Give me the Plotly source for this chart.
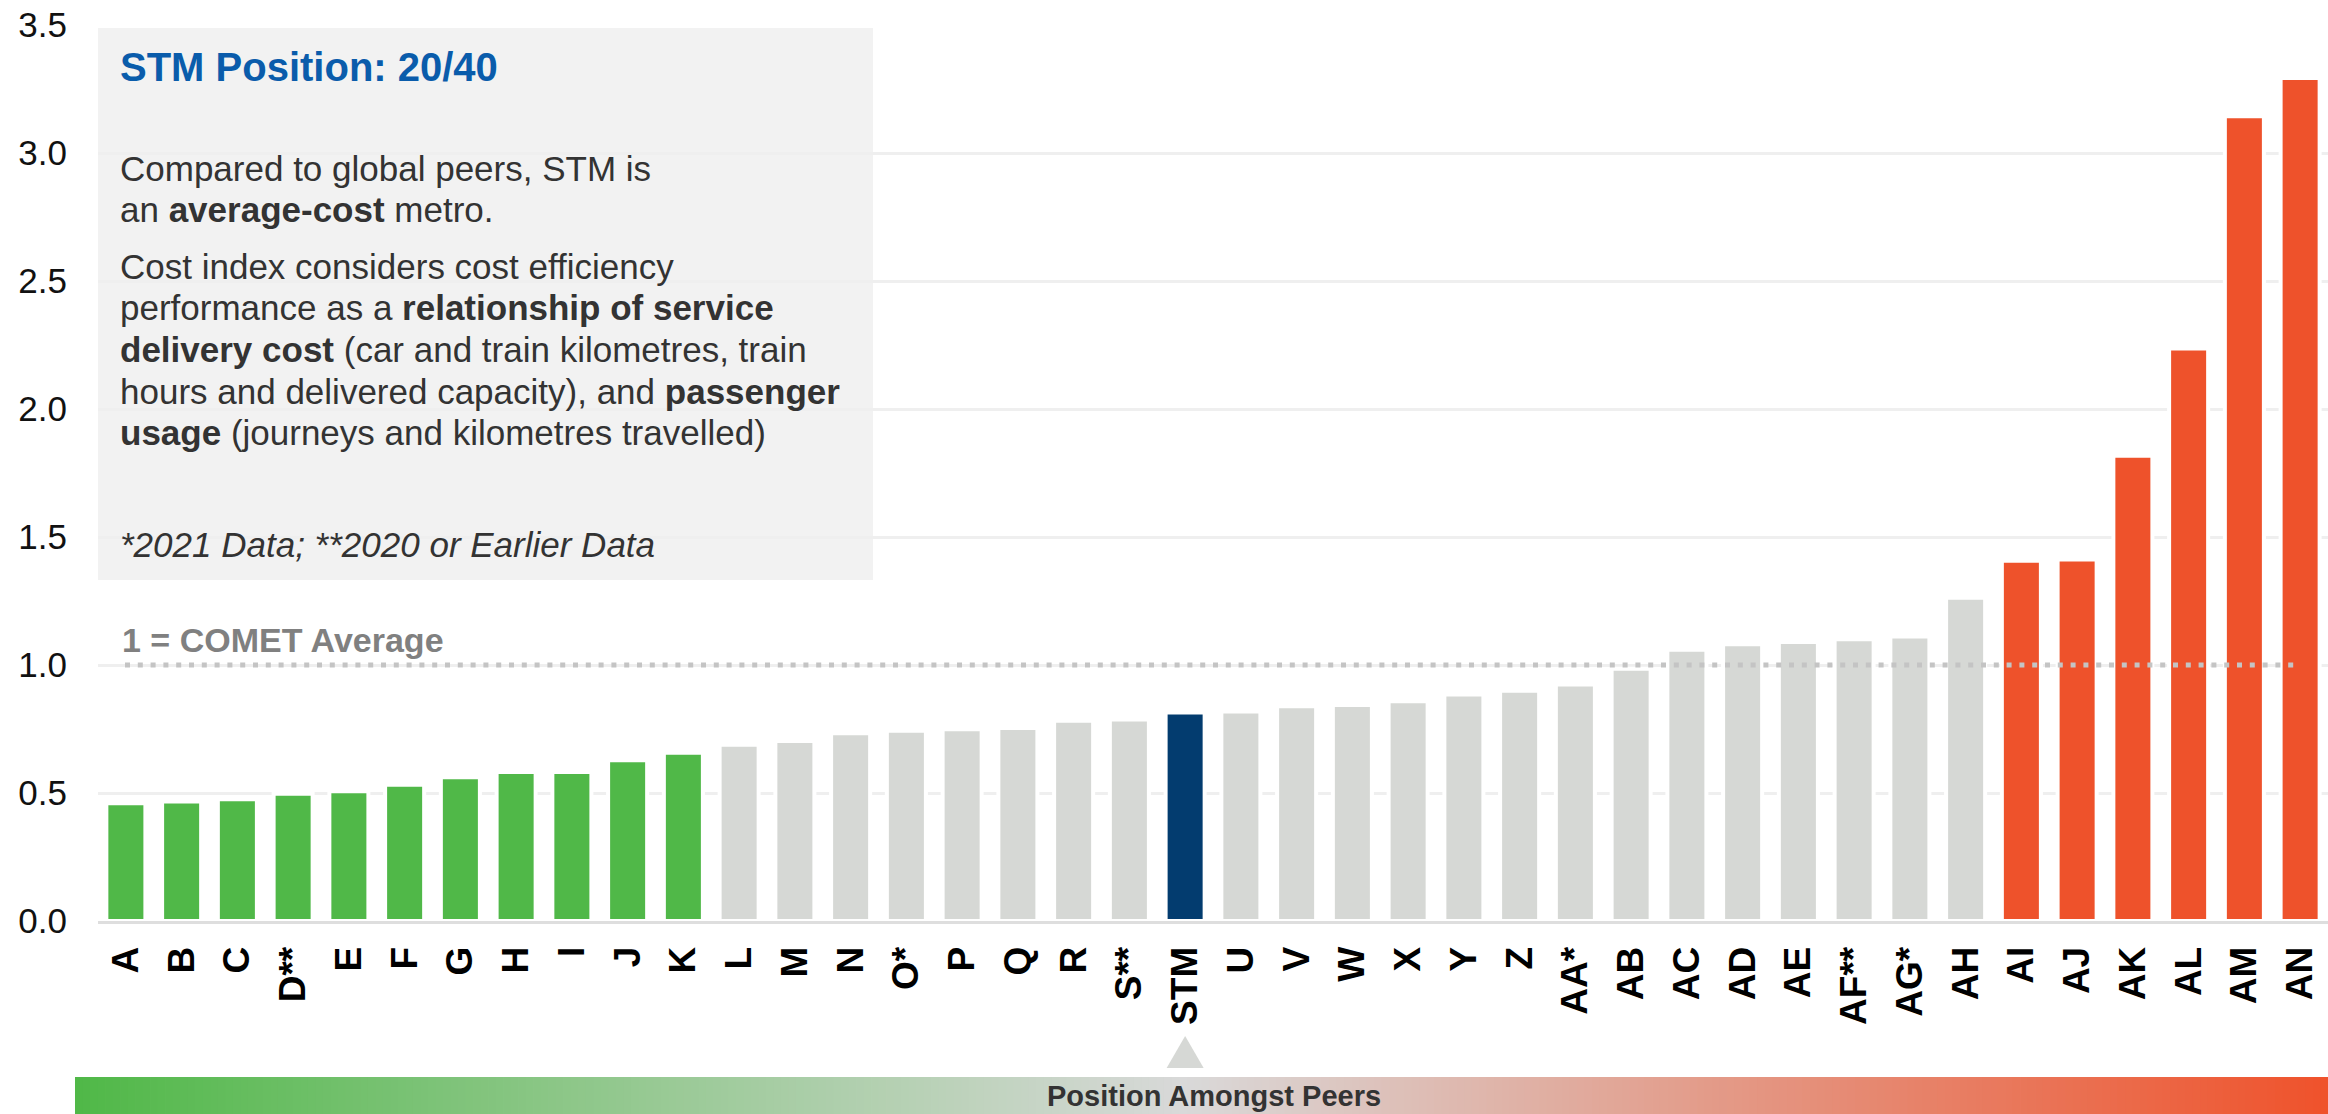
import plotly.graph_objects as go

# ---------------- data ----------------
categories = ["A", "B", "C", "D**", "E", "F", "G", "H", "I", "J", "K", "L", "M", "N", "O*",
              "P", "Q", "R", "S**", "STM", "U", "V", "W", "X", "Y", "Z", "AA*", "AB", "AC",
              "AD", "AE", "AF**", "AG*", "AH", "AI", "AJ", "AK", "AL", "AM", "AN"]
cost_index = [0.460, 0.467, 0.476, 0.497, 0.507, 0.532, 0.562, 0.582, 0.582, 0.628, 0.657,
              0.688, 0.703, 0.733, 0.743, 0.749, 0.754, 0.782, 0.787, 0.814, 0.818, 0.839,
              0.844, 0.858, 0.885, 0.899, 0.924, 0.985, 1.060, 1.081, 1.090, 1.101, 1.111,
              1.263, 1.407, 1.412, 1.817, 2.236, 3.144, 3.293]
groups = (["low"] * 11 + ["mid"] * 8 + ["stm"] + ["mid"] * 14 + ["high"] * 6)
comet_average = 1.0
y_ticks = [0.0, 0.5, 1.0, 1.5, 2.0, 2.5, 3.0, 3.5]

# ---------------- styling ----------------
W, H = 2328, 1114
L_M, R_M, T_M, B_M = 98, 0, 25, 193
PLOT_W = W - L_M - R_M
PLOT_H = H - T_M - B_M
FONT = "Liberation Sans, Arial, Helvetica, sans-serif"
group_colors = {"low": "#50b848", "mid": "#d6d8d5", "stm": "#033c6f", "high": "#ee522b"}
bar_colors = [group_colors[g] for g in groups]


def px(p):  # pixel x -> paper
    return (p - L_M) / PLOT_W


def py(p):  # pixel y -> paper
    return (H - B_M - p) / PLOT_H


fig = go.Figure()
fig.add_trace(go.Bar(
    x=categories, y=cost_index,
    marker=dict(color=bar_colors, line=dict(color="#ffffff", width=4)),
    hoverinfo="x+y", showlegend=False,
))

shapes = []
# info box
shapes.append(dict(type="rect", xref="paper", yref="paper", layer="between",
                   x0=px(98), x1=px(873), y0=py(580), y1=py(28),
                   fillcolor="#f2f2f2", line=dict(width=0)))
# COMET average dotted line
shapes.append(dict(type="line", xref="paper", yref="y", layer="above",
                   x0=px(125), x1=px(2296), y0=comet_average, y1=comet_average,
                   line=dict(color="#c4c4c4", width=5, dash="5px,7.8px")))
# STM pointer triangle
stm_idx = categories.index("STM")
stm_cx = L_M + (stm_idx + 0.5) * PLOT_W / len(categories)
shapes.append(dict(type="path", xref="paper", yref="paper", layer="above",
                   path=f"M {px(stm_cx-18.5)},{py(1068)} L {px(stm_cx+18.5)},{py(1068)} L {px(stm_cx)},{py(1036)} Z",
                   fillcolor="#d6d8d5", line=dict(width=0)))

# gradient band
def lerp(c1, c2, t):
    return tuple(round(a + (b - a) * t) for a, b in zip(c1, c2))

g_left, g_mid, g_right = (80, 184, 72), (217, 217, 217), (239, 82, 43)
band_x0, band_x1 = 75, W
n_steps = 300
step = (band_x1 - band_x0) / n_steps
mid_frac = (stm_cx - band_x0) / (band_x1 - band_x0)
for i in range(n_steps):
    f = (i + 0.5) / n_steps
    if f < mid_frac:
        c = lerp(g_left, g_mid, f / mid_frac)
    else:
        c = lerp(g_mid, g_right, (f - mid_frac) / (1 - mid_frac))
    shapes.append(dict(type="rect", xref="paper", yref="paper", layer="above",
                       x0=px(band_x0 + i * step), x1=px(band_x0 + (i + 1) * step + 0.8),
                       y0=py(H), y1=py(1077),
                       fillcolor="rgb(%d,%d,%d)" % c, line=dict(width=0)))

annotations = []


def note(text, x, y, size, color, **kw):
    annotations.append(dict(text=text, xref="paper", yref="paper", x=px(x), y=py(y),
                            xanchor=kw.pop("xanchor", "left"), yanchor="middle",
                            showarrow=False, font=dict(family=FONT, size=size, color=color), **kw))


TXT = "#333333"
note("<b>STM Position: 20/40</b>", 118, 67, 40, "#0a5cab")
note("Compared to global peers, STM is", 118, 168, 35, TXT)
note("an <b>average-cost</b> metro.", 118, 209, 35, TXT)
note("Cost index considers cost efficiency", 118, 266, 35, TXT)
note("performance as a <b>relationship of service</b>", 118, 307, 35, TXT)
note("<b>delivery cost</b> (car and train kilometres, train", 118, 349, 35, TXT)
note("hours and delivered capacity), and <b>passenger</b>", 118, 391, 35, TXT)
note("<b>usage</b> (journeys and kilometres travelled)", 118, 432, 35, TXT)
note("<i>*2021 Data; **2020 or Earlier Data</i>", 118, 544, 35, TXT)
note("<b>1 = COMET Average</b>", 120, 640, 34, "#808080")
note("<b>Position Amongst Peers</b>", 1214, 1096, 29, "#333333", xanchor="center")

fig.update_layout(
    width=W, height=H,
    margin=dict(l=L_M, r=R_M, t=T_M, b=B_M, pad=0),
    paper_bgcolor="#ffffff", plot_bgcolor="#ffffff",
    bargap=0.30,
    shapes=shapes, annotations=annotations,
    font=dict(family=FONT, color="#111111"),
    xaxis=dict(type="category", tickangle=-90, showgrid=False, ticks="",
               tickfont=dict(family=FONT, size=37, color="#000000", weight="bold"),
               showline=True, linecolor="#dedede", linewidth=3, ticklabelstandoff=8,
               range=[-0.5, len(categories) - 0.5], fixedrange=True),
    yaxis=dict(range=[0, 3.5], tickvals=y_ticks, ticktext=["%.1f" % v for v in y_ticks],
               showgrid=True, gridcolor="#efefef", gridwidth=3, zeroline=False,
               ticks="", ticklabelstandoff=30,
               tickfont=dict(family=FONT, size=35, color="#111111"), fixedrange=True),
)

fig.write_html("out.html")
